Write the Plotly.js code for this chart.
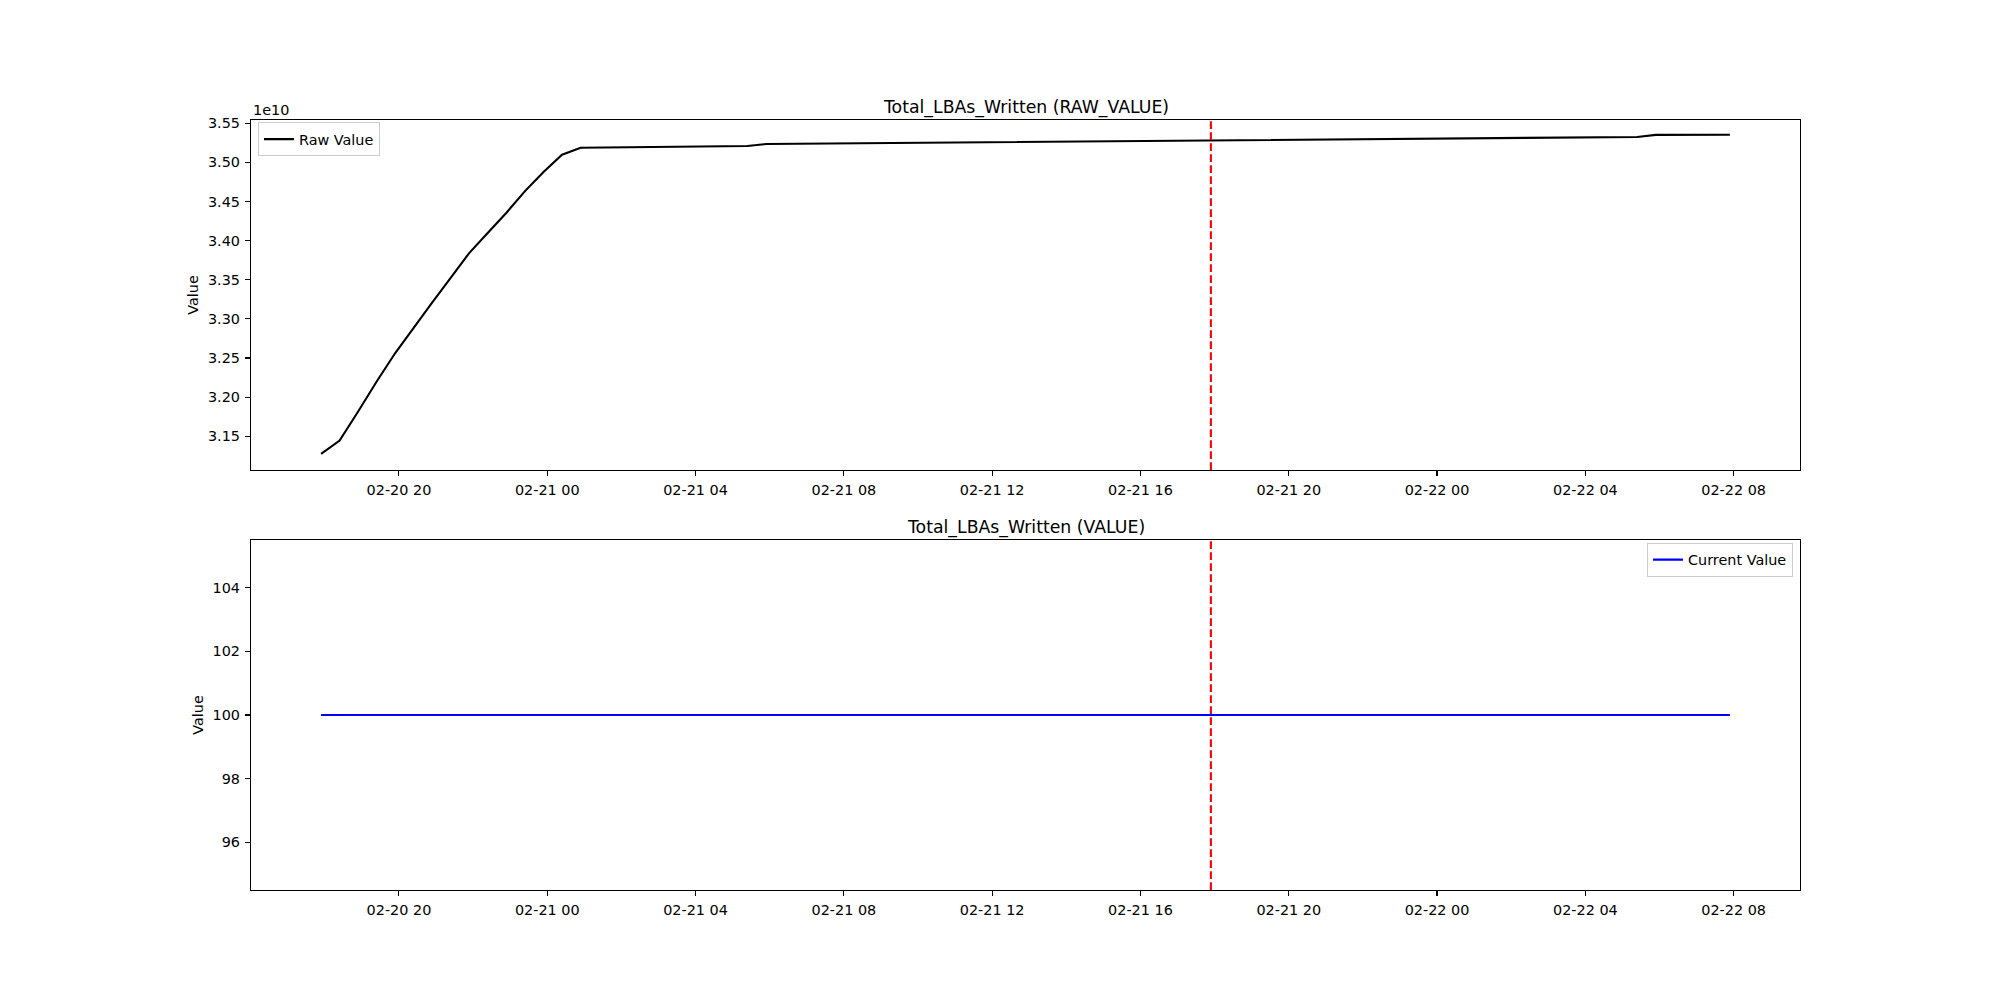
<!DOCTYPE html>
<html>
<head>
<meta charset="utf-8">
<script src="https://cdn.plot.ly/plotly-3.0.1.min.js"></script>
<style>html,body{margin:0;padding:0;background:#fff;}#chart{width:2000px;height:1000px;}</style>
</head>
<body>
<div id="chart"></div>
<script>
// ---- data ----
const sampleTimes = [
  '2024-02-20 17:54', '2024-02-20 18:24', '2024-02-20 18:54', '2024-02-20 19:24',
  '2024-02-20 19:54', '2024-02-20 20:24', '2024-02-20 20:54', '2024-02-20 21:24',
  '2024-02-20 21:54', '2024-02-20 22:24', '2024-02-20 22:54', '2024-02-20 23:24',
  '2024-02-20 23:54', '2024-02-21 00:24', '2024-02-21 00:54', '2024-02-21 05:24',
  '2024-02-21 05:54', '2024-02-22 05:24', '2024-02-22 05:54', '2024-02-22 07:54'
];
const rawValues = [
  3.1274e10, 3.1444e10, 3.1816e10, 3.2200e10,
  3.2563e10, 3.2892e10, 3.3212e10, 3.3528e10,
  3.3844e10, 3.4100e10, 3.4356e10, 3.4633e10,
  3.4877e10, 3.5099e10, 3.5188e10, 3.5209e10,
  3.5235e10, 3.5325e10, 3.5352e10, 3.5353e10
];
const currentValues = [
  100, 100, 100, 100, 100, 100, 100, 100, 100, 100,
  100, 100, 100, 100, 100, 100, 100, 100, 100, 100
];
const markerTime = '2024-02-21 17:54';
const rawTickVals = [3.15e10, 3.20e10, 3.25e10, 3.30e10, 3.35e10, 3.40e10, 3.45e10, 3.50e10, 3.55e10];
const rawTickText = ['3.15', '3.20', '3.25', '3.30', '3.35', '3.40', '3.45', '3.50', '3.55'];
const valueTickVals = [96, 98, 100, 102, 104];
const valueTickText = ['96', '98', '100', '102', '104'];
const xRange = ['2024-02-20 16:00:36', '2024-02-22 09:47:24'];
const rawRange = [3.1068e10, 3.5542e10];
const valueRange = [94.5, 105.5];
const titleTop = 'Total_LBAs_Written (RAW_VALUE)';
const titleBottom = 'Total_LBAs_Written (VALUE)';

// ---- styling ----
const FONT = 'DejaVu Sans, Liberation Sans, sans-serif';
const SMALL = 14.4;
const BIG = 17.3;
const tickFont = {family: FONT, size: SMALL, color: '#000'};

function xAxis(anchor) {
  return {
    type: 'date', range: xRange, anchor: anchor, domain: [0, 1],
    tick0: '2024-02-20 00:00', dtick: 4 * 3600 * 1000, tickformat: '%m-%d %H',
    ticks: 'outside', ticklen: 5, tickwidth: 1.1, tickcolor: '#000',
    showline: true, mirror: true, linecolor: '#000', linewidth: 1.1,
    showgrid: false, zeroline: false, tickfont: tickFont, ticklabelstandoff: 2
  };
}
function yAxis(anchor, domain, range, vals, text) {
  return {
    range: range, anchor: anchor, domain: domain,
    tickmode: 'array', tickvals: vals, ticktext: text,
    ticks: 'outside', ticklen: 5, tickwidth: 1.1, tickcolor: '#000',
    showline: true, mirror: true, linecolor: '#000', linewidth: 1.1,
    showgrid: false, zeroline: false, tickfont: tickFont, ticklabelstandoff: 2,
    title: {text: 'Value', font: {family: FONT, size: SMALL, color: '#000'}, standoff: 5}
  };
}

const traces = [
  {x: sampleTimes, y: rawValues, type: 'scatter', mode: 'lines', name: 'Raw Value',
   line: {color: '#000000', width: 2.1}, xaxis: 'x', yaxis: 'y', legend: 'legend'},
  {x: sampleTimes, y: currentValues, type: 'scatter', mode: 'lines', name: 'Current Value',
   line: {color: '#0000ff', width: 2.1}, xaxis: 'x2', yaxis: 'y2', legend: 'legend2'}
];

const topDomain = [420 / 770, 1];
const botDomain = [0, 350 / 770];

const legendStyle = {
  bgcolor: 'rgba(255,255,255,0.8)', bordercolor: '#cccccc', borderwidth: 1,
  font: {family: FONT, size: SMALL, color: '#000'}, itemwidth: 30
};

const layout = {
  width: 2000, height: 1000,
  margin: {l: 251, r: 200, t: 120, b: 110, pad: 0},
  paper_bgcolor: '#fff', plot_bgcolor: '#fff',
  font: {family: FONT, size: SMALL, color: '#000'},
  showlegend: true,
  xaxis: xAxis('y'),
  yaxis: yAxis('x', topDomain, rawRange, rawTickVals, rawTickText),
  xaxis2: xAxis('y2'),
  yaxis2: yAxis('x2', botDomain, valueRange, valueTickVals, valueTickText),
  legend: Object.assign({x: 0.0045, y: 0.997, xanchor: 'left', yanchor: 'top'}, legendStyle),
  legend2: Object.assign({x: 0.9955, y: 0.451, xanchor: 'right', yanchor: 'top'}, legendStyle),
  shapes: [
    {type: 'line', xref: 'x', yref: 'y domain', x0: markerTime, x1: markerTime, y0: 0, y1: 1,
     line: {color: '#ff0000', width: 2.1, dash: '7.7px,3.3px'}},
    {type: 'line', xref: 'x2', yref: 'y2 domain', x0: markerTime, x1: markerTime, y0: 0, y1: 1,
     line: {color: '#ff0000', width: 2.1, dash: '7.7px,3.3px'}}
  ],
  annotations: [
    {text: titleTop, xref: 'paper', yref: 'paper', x: 0.5, y: topDomain[1], xanchor: 'center', yanchor: 'bottom',
     yshift: 0, showarrow: false, font: {family: FONT, size: BIG, color: '#000'}},
    {text: titleBottom, xref: 'paper', yref: 'paper', x: 0.5, y: botDomain[1], xanchor: 'center', yanchor: 'bottom',
     yshift: 0, showarrow: false, font: {family: FONT, size: BIG, color: '#000'}},
    {text: '1e10', xref: 'paper', yref: 'paper', x: 0, y: topDomain[1], xanchor: 'left', yanchor: 'bottom',
     yshift: 0, showarrow: false, font: {family: FONT, size: SMALL, color: '#000'}}
  ]
};

Plotly.newPlot('chart', traces, layout, {displayModeBar: false, staticPlot: true});
</script>
</body>
</html>
